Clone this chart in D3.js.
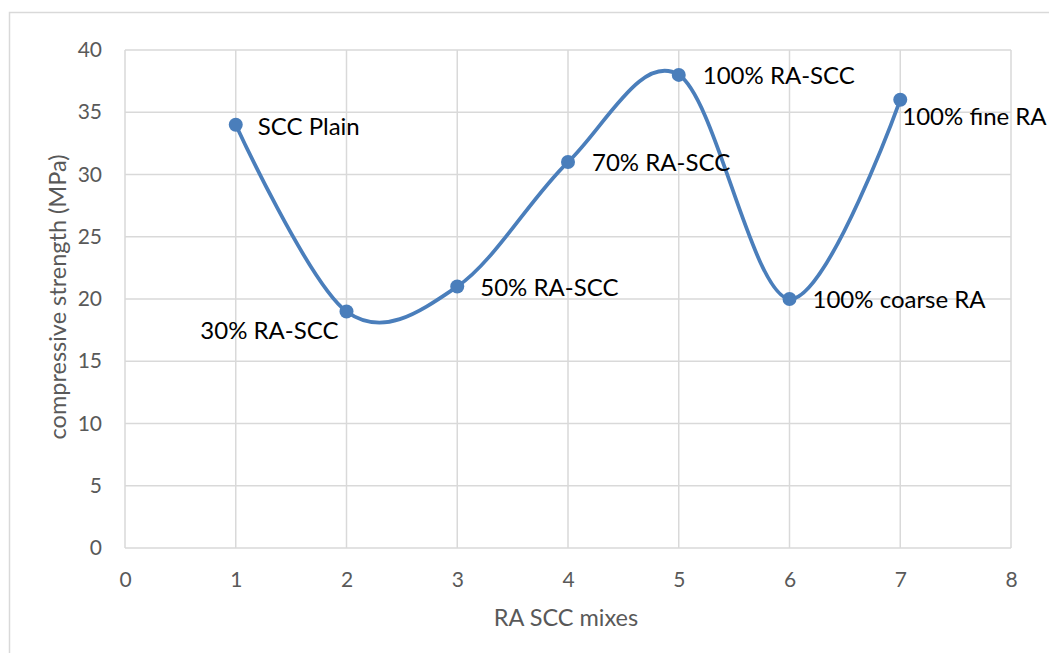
<!DOCTYPE html>
<html>
<head>
<meta charset="utf-8">
<script src="https://cdn.jsdelivr.net/npm/d3@7"></script>
<style>
  body { margin: 0; background: #fff; }
  svg { display: block; font-family: Lato, "Open Sans", sans-serif; }
</style>
</head>
<body>
<svg width="1049" height="653"></svg>
<script>
// chart values
var mixNumbers = [1, 2, 3, 4, 5, 6, 7];
var strengths = [34, 19, 21, 31, 38, 20, 36];
var mixLabels = ["SCC Plain", "30% RA-SCC", "50% RA-SCC", "70% RA-SCC", "100% RA-SCC", "100% coarse RA", "100% fine RA"];
var xTicks = [0, 1, 2, 3, 4, 5, 6, 7, 8];
var yTicks = [0, 5, 10, 15, 20, 25, 30, 35, 40];

var svg = d3.select("svg");

// outer chart border (right / bottom edges run off the picture)
svg.append("rect")
    .attr("x", 9.5).attr("y", 12.5)
    .attr("width", 1060).attr("height", 660)
    .attr("fill", "none")
    .attr("stroke", "#d9d9d9")
    .attr("stroke-width", 1.5);

var margin = {top: 50, right: 38, bottom: 105, left: 125},
    width = 1049 - margin.left - margin.right,
    height = 653 - margin.top - margin.bottom;

var x = d3.scaleLinear().domain([0, 8]).range([0, width]),
    y = d3.scaleLinear().domain([0, 40]).range([height, 0]);

var g = svg.append("g")
    .attr("transform", "translate(" + margin.left + "," + margin.top + ")");

// grid
g.append("g")
    .selectAll("line")
    .data(yTicks)
    .enter().append("line")
    .attr("x1", 0).attr("x2", width)
    .attr("y1", function (d) { return y(d); })
    .attr("y2", function (d) { return y(d); })
    .attr("stroke", "#d9d9d9").attr("stroke-width", 1.5);

g.append("g")
    .selectAll("line")
    .data(xTicks)
    .enter().append("line")
    .attr("y1", 0).attr("y2", height)
    .attr("x1", function (d) { return x(d); })
    .attr("x2", function (d) { return x(d); })
    .attr("stroke", "#d9d9d9").attr("stroke-width", 1.5);

// axes (tick labels only, lines come from the grid)
var xAxis = g.append("g")
    .attr("transform", "translate(0," + height + ")")
    .call(d3.axisBottom(x).tickValues(xTicks).tickSize(0).tickPadding(24).tickFormat(d3.format("d")));
var yAxis = g.append("g")
    .call(d3.axisLeft(y).tickValues(yTicks).tickSize(0).tickPadding(23).tickFormat(d3.format("d")));

[xAxis, yAxis].forEach(function (a) {
    a.select(".domain").remove();
    a.selectAll("text")
        .attr("fill", "#595959")
        .style("font-size", "21px")
        .style("font-family", "Lato, sans-serif");
});

// axis titles
svg.append("text")
    .attr("x", margin.left + x(4) - 2)
    .attr("y", 626)
    .attr("text-anchor", "middle")
    .attr("fill", "#595959")
    .style("font-size", "23.5px")
    .text("RA SCC mixes");

svg.append("text")
    .attr("transform", "translate(66," + (margin.top + height / 2 - 2) + ") rotate(-90)")
    .attr("text-anchor", "middle")
    .attr("fill", "#595959")
    .style("font-size", "23.5px")
    .text("compressive strength (MPa)");

// smoothed line
var points = mixNumbers.map(function (d, i) { return {mix: d, value: strengths[i], label: mixLabels[i]}; });

var line = d3.line()
    .x(function (d) { return x(d.mix); })
    .y(function (d) { return y(d.value); })
    .curve(d3.curveCardinal.tension(0));

g.append("path")
    .datum(points)
    .attr("fill", "none")
    .attr("stroke", "#4a7ebb")
    .attr("stroke-width", 3.75)
    .attr("d", line);

g.selectAll(".dot")
    .data(points)
    .enter().append("circle")
    .attr("class", "dot")
    .attr("cx", function (d) { return x(d.mix); })
    .attr("cy", function (d) { return y(d.value); })
    .attr("r", 7)
    .attr("fill", "#4a7ebb");

// data labels, nudged like in the original
var labelNudge = {
    "SCC Plain": [22, 2, "start"],
    "30% RA-SCC": [-8, 19, "end"],
    "50% RA-SCC": [23, 1, "start"],
    "70% RA-SCC": [24, 1, "start"],
    "100% RA-SCC": [24, 1, "start"],
    "100% coarse RA": [23, 1, "start"],
    "100% fine RA": [2, 17, "start"]
};

g.selectAll(".lbl")
    .data(points)
    .enter().append("text")
    .attr("class", "lbl")
    .attr("x", function (d) { return x(d.mix) + labelNudge[d.label][0]; })
    .attr("y", function (d) { return y(d.value) + labelNudge[d.label][1]; })
    .attr("dy", "0.35em")
    .attr("text-anchor", function (d) { return labelNudge[d.label][2]; })
    .attr("fill", "#000")
    .style("font-size", "24px")
    .text(function (d) { return d.label; });
</script>
</body>
</html>
